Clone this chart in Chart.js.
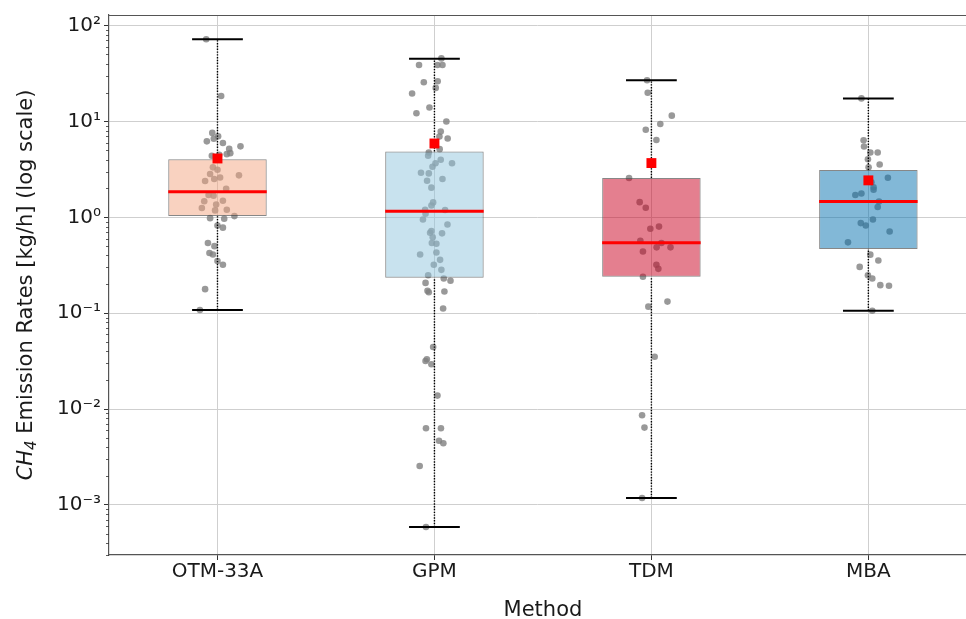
<!DOCTYPE html>
<html lang="en">
<head>
<meta charset="UTF-8">
<title>CH4 Emission Rates by Method</title>
<script src="https://cdn.jsdelivr.net/npm/chart.js@4.4.1/dist/chart.umd.min.js"></script>
<style>
  html, body { margin: 0; padding: 0; background: #fff; }
  #wrap { width: 966px; height: 619px; }
</style>
</head>
<body>
<div id="wrap"><canvas id="ch4Chart" width="966" height="619"></canvas></div>
<script>
// categories
var methods = ['OTM-33A', 'GPM', 'TDM', 'MBA'];

// box statistics
var q1 = [1.03, 0.234, 0.24, 0.468];
var median = [1.85, 1.16, 0.544, 1.46];
var q3 = [4.04, 4.86, 2.57, 3.11];
var mean = [4.11, 5.89, 3.68, 2.43];
var whiskerLow = [0.108, 0.000587, 0.00118, 0.106];
var whiskerHigh = [72, 45.2, 26.9, 17.4];

// individual measurements per method + horizontal jitter (category units)
var otmVals = [72, 18.4, 7.6, 7.0, 6.2, 6.6, 5.97, 5.5, 5.17, 4.67, 4.56, 4.38, 4.5, 3.32, 3.13, 2.83, 2.74, 2.51, 2.39, 2.6,
   1.98, 1.71, 1.68, 1.47, 1.49, 1.36, 1.25, 1.2, 1.18, 0.98, 0.965, 1.03, 0.82, 0.78, 0.54, 0.50, 0.425, 0.41, 0.35, 0.32,
   0.178, 0.108];
var otmJit = [-0.052, 0.017, -0.024, 0.003, -0.049, -0.017, 0.025, 0.106, 0.054, 0.059, 0.043, -0.026, 0.008, -0.021, 0, -0.034, 0.099, -0.015, -0.057, 0.012,
   0.040, -0.041, -0.018, -0.061, 0.025, -0.006, -0.072, 0.043, -0.011, -0.034, 0.031, 0.078, 0, 0.025, -0.044, -0.014, -0.037, -0.021, 0, 0.025,
   -0.057, -0.081];

var gpmVals = [45.5, 38.8, 38.8, 38.8, 25.6, 26.3, 22.4, 19.6, 14.0, 12.2, 10.0, 7.84, 6.63, 6.96, 5.14, 4.75, 4.38, 3.98, 3.67, 3.67,
   3.37, 2.92, 2.87, 2.51, 2.41, 2.04, 1.43, 1.33, 1.2, 1.19, 1.09, 0.95, 0.84, 0.72, 0.69, 0.68, 0.62, 0.54, 0.53, 0.41,
   0.43, 0.36, 0.32, 0.283, 0.249, 0.23, 0.218, 0.207, 0.171, 0.168, 0.165, 0.112, 0.0443, 0.033, 0.0317, 0.0293, 0.0138, 0.0063, 0.0063, 0.00466,
   0.0044, 0.00254, 0.000587];
var gpmJit = [0.032, -0.071, 0.014, 0.037, -0.049, 0.015, 0.006, -0.103, -0.023, -0.083, 0.055, 0.029, 0.061, 0.023, 0.024, -0.026, -0.029, 0.029, 0.081, 0.005,
   -0.009, -0.062, -0.026, 0.037, -0.034, -0.014, -0.006, -0.014, -0.043, 0.049, -0.041, -0.053, 0.060, -0.014, -0.020, 0.035, -0.008, -0.012, 0.009, -0.066,
   0.009, 0.026, -0.003, 0.032, -0.029, 0.043, 0.074, -0.041, -0.032, 0.046, -0.026, 0.040, -0.006, -0.035, -0.041, -0.014, 0.014, -0.039, 0.030, 0.021,
   0.041, -0.068, -0.039];

var tdmVals = [26.9, 19.9, 11.5, 9.4, 8.2, 6.4, 2.57, 1.44, 1.26, 0.80, 0.76, 0.57, 0.54, 0.486, 0.486, 0.44, 0.32, 0.29, 0.24, 0.132,
   0.117, 0.0351, 0.0086, 0.0064, 0.00118];
var tdmJit = [-0.020, -0.017, 0.094, 0.041, -0.026, 0.023, -0.103, -0.054, -0.026, 0.035, -0.005, -0.051, 0.046, 0.088, 0.024, -0.039, 0.023, 0.032, -0.039, 0.074,
   -0.014, 0.015, -0.043, -0.032, -0.043];

var mbaVals = [17.4, 6.37, 5.48, 4.75, 4.75, 4.04, 3.56, 3.32, 2.59, 2.32, 2.06, 1.94, 1.71, 1.77, 1.46, 1.28, 0.95, 0.87, 0.82, 0.71,
   0.548, 0.408, 0.354, 0.304, 0.249, 0.23, 0.196, 0.193, 0.106];
var mbaJit = [-0.032, -0.022, -0.020, 0.009, 0.043, -0.002, 0.052, 0.001, 0.090, 0.014, 0.024, 0.024, -0.060, -0.032, 0.049, 0.043, 0.021, -0.035, -0.012, 0.098,
   -0.094, 0.009, 0.046, -0.040, -0.002, 0.018, 0.055, 0.095, 0.018];

var pointVals = [otmVals, gpmVals, tdmVals, mbaVals];
var pointJit = [otmJit, gpmJit, tdmJit, mbaJit];

// y axis ticks
var yTickValues = [0.001, 0.01, 0.1, 1, 10, 100];
var yTickLabels = ['10⁻³', '10⁻²', '10⁻¹', '10⁰', '10¹', '10²'];

var boxColors = ['rgba(244,165,130,0.5)', 'rgba(146,197,222,0.5)', 'rgba(202,0,32,0.5)', 'rgba(5,113,176,0.5)'];
var BOX_HALF = 0.227;  // half box width in category units
var CAP_HALF = 0.117;
var FONT = "'DejaVu Sans', sans-serif";

Chart.defaults.font.family = FONT;
Chart.defaults.color = '#1a1a1a';

var datasets = [];

// mean markers
datasets.push({
   type: 'scatter',
   data: mean.map(function (m, i) { return { x: i + 1, y: m }; }),
   pointStyle: 'rect',
   pointRadius: 7,
   backgroundColor: '#ff0000',
   borderWidth: 0,
   order: 0
});

// medians, caps, whiskers
methods.forEach(function (name, i) {
   var c = i + 1;
   datasets.push({
      type: 'line',
      data: [{ x: c - BOX_HALF, y: median[i] }, { x: c + BOX_HALF, y: median[i] }],
      borderColor: '#ff0000', borderWidth: 3, pointRadius: 0, order: 1
   });
   [whiskerLow[i], whiskerHigh[i]].forEach(function (v) {
      datasets.push({
         type: 'line',
         data: [{ x: c - CAP_HALF, y: v }, { x: c + CAP_HALF, y: v }],
         borderColor: '#000', borderWidth: 2, pointRadius: 0, order: 2
      });
   });
   [[whiskerLow[i], q1[i]], [q3[i], whiskerHigh[i]]].forEach(function (seg) {
      datasets.push({
         type: 'line',
         data: [{ x: c, y: seg[0] }, { x: c, y: seg[1] }],
         borderColor: '#000', borderWidth: 1.4, borderDash: [1.4, 1.4], pointRadius: 0, order: 4
      });
   });
});

// boxes (floating bars q1..q3)
datasets.push({
   type: 'bar',
   data: methods.map(function (name, i) { return { x: i + 1, y: [q1[i], q3[i]] }; }),
   backgroundColor: boxColors,
   borderColor: 'rgba(70,70,70,0.65)',
   borderWidth: 1,
   borderSkipped: false,
   categoryPercentage: 1,
   barPercentage: BOX_HALF * 2,
   order: 3
});

// jittered measurements
pointVals.forEach(function (vals, i) {
   datasets.push({
      type: 'scatter',
      data: vals.map(function (v, j) { return { x: i + 1 + pointJit[i][j], y: v }; }),
      pointRadius: 3.3,
      backgroundColor: 'rgba(128,128,128,0.8)',
      borderWidth: 0,
      order: 5
   });
});

// spine, minor ticks and axis titles (CH4 needs italic + subscript)
var decorPlugin = {
   id: 'decor',
   afterDraw: function (chart) {
      var ctx = chart.ctx, a = chart.chartArea, ys = chart.scales.y, xs = chart.scales.x;
      ctx.save();
      // minor ticks on the log axis
      ctx.strokeStyle = '#333';
      ctx.lineWidth = 0.8;
      for (var e = -4; e <= 2; e++) {
         for (var k = 2; k <= 9; k++) {
            var v = k * Math.pow(10, e);
            if (v < ys.min || v > ys.max) continue;
            var py = Math.round(ys.getPixelForValue(v)) + 0.5;
            ctx.beginPath();
            ctx.moveTo(a.left - 3, py);
            ctx.lineTo(a.left, py);
            ctx.stroke();
         }
      }
      // top spine
      ctx.strokeStyle = '#555';
      ctx.lineWidth = 1.2;
      ctx.beginPath();
      ctx.moveTo(a.left, a.top + 0.5);
      ctx.lineTo(a.right, a.top + 0.5);
      ctx.stroke();

      // x title, centred on the full category range
      ctx.fillStyle = '#1a1a1a';
      ctx.font = '21px ' + FONT;
      ctx.textAlign = 'center';
      ctx.textBaseline = 'alphabetic';
      ctx.fillText('Method', xs.getPixelForValue(2.5), 616);

      // y title
      var parts = [
         { t: 'CH', f: 'italic 21px ' + FONT, dy: 0 },
         { t: '4', f: 'italic 15px ' + FONT, dy: 4 },
         { t: ' Emission Rates [kg/h] (log scale)', f: '21px ' + FONT, dy: 0 }
      ];
      var total = 0;
      parts.forEach(function (p) { ctx.font = p.f; p.w = ctx.measureText(p.t).width; total += p.w; });
      ctx.translate(31.5, (a.top + a.bottom) / 2);
      ctx.rotate(-Math.PI / 2);
      ctx.textAlign = 'left';
      var px = -total / 2;
      parts.forEach(function (p) {
         ctx.font = p.f;
         ctx.fillText(p.t, px, p.dy);
         px += p.w;
      });
      ctx.restore();
   }
};

var ctx = document.getElementById('ch4Chart').getContext('2d');
var ch4Chart = new Chart(ctx, {
   type: 'bar',
   data: { datasets: datasets },
   plugins: [decorPlugin],
   options: {
      responsive: false,
      animation: false,
      layout: { autoPadding: false, padding: { top: 15, right: 0, left: 0, bottom: 0 } },
      plugins: {
         legend: { display: false },
         tooltip: { enabled: false }
      },
      scales: {
         x: {
            type: 'linear',
            min: 0.5,
            max: 4.45,
            offset: false,
            afterFit: function (s) { s.height = 64; s.paddingLeft = 0; s.paddingRight = 0; },
            afterBuildTicks: function (s) {
               s.ticks = methods.map(function (m, i) { return { value: i + 1 }; });
            },
            ticks: {
               autoSkip: false,
               maxRotation: 0,
               padding: 0,
               font: { size: 20 },
               color: '#1a1a1a',
               callback: function (v) { return methods[Math.round(v) - 1]; }
            },
            grid: { color: '#cfcfcf', lineWidth: 1, offset: false, tickLength: 5, tickColor: '#333' },
            border: { color: '#555', width: 1.2 }
         },
         y: {
            type: 'logarithmic',
            min: 0.000323,
            max: 129,
            afterFit: function (s) { s.width = 109; s.paddingTop = 0; s.paddingBottom = 0; },
            afterBuildTicks: function (s) {
               s.ticks = yTickValues.map(function (v) { return { value: v }; });
            },
            ticks: {
               padding: 3,
               font: { size: 20 },
               color: '#1a1a1a',
               callback: function (v, idx) { return yTickLabels[idx]; }
            },
            grid: { color: '#cfcfcf', lineWidth: 1, tickLength: 5, tickColor: '#333' },
            border: { color: '#555', width: 1.2 }
         }
      }
   }
});
</script>
</body>
</html>
